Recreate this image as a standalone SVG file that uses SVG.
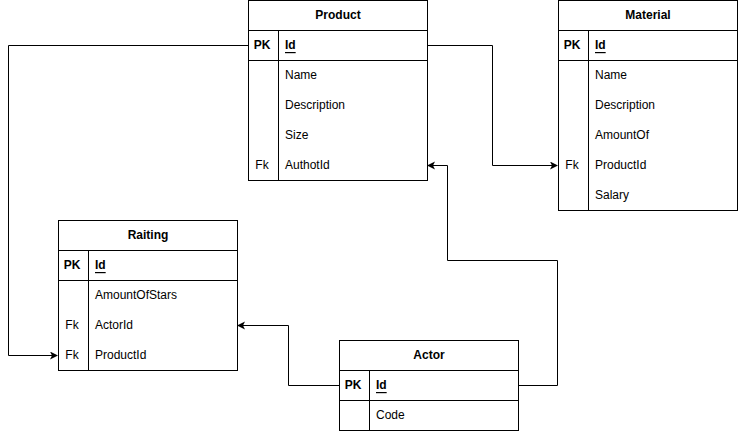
<svg xmlns="http://www.w3.org/2000/svg" width="738" height="431" viewBox="0 0 738 431">
<style>
.box{fill:#fff;stroke:#000;stroke-width:1}
.ln{stroke:#000;stroke-width:1;fill:none}
.t{font-family:"Liberation Sans",Arial,sans-serif;font-size:12px;fill:#000;dominant-baseline:central}
.b{font-weight:bold}
.c{text-anchor:middle}
.u{text-decoration:underline}
.conn{stroke:#000;stroke-width:1;fill:none;marker-end:url(#arr)}
</style>
<defs>
<marker id="arr" markerWidth="10" markerHeight="10" refX="7" refY="4" orient="auto" markerUnits="userSpaceOnUse">
<path d="M0,0 L8,4 L0,8 L2,4 Z" fill="#000"/>
</marker>
</defs>
<g id="connectors">
<path class="conn" d="M248,45.5 H8.5 V355.5 H57"/>
<path class="conn" d="M427,45.5 H492.5 V165.5 H557"/>
<path class="conn" d="M518,385.5 H557.5 V260.5 H447.5 V165.5 H428"/>
<path class="conn" d="M339,385.5 H288.5 V325.5 H238"/>
</g>
<g id="product">
<rect class="box" x="248.5" y="0.5" width="179" height="180"/>
<path class="ln" d="M248.5,30.5 H427.5 M248.5,60.5 H427.5 M278.5,30.5 V180.5"/>
<text class="t b c" x="338" y="15">Product</text>
<text class="t b c" x="262" y="45">PK</text>
<text class="t b u" x="285" y="45">Id</text>
<text class="t" x="285" y="75">Name</text>
<text class="t" x="285" y="105">Description</text>
<text class="t" x="285" y="135">Size</text>
<text class="t c" x="262" y="165">Fk</text>
<text class="t" x="285" y="165">AuthotId</text>
</g>
<g id="material">
<rect class="box" x="558.5" y="0.5" width="179" height="210"/>
<path class="ln" d="M558.5,30.5 H737.5 M558.5,60.5 H737.5 M588.5,30.5 V210.5"/>
<text class="t b c" x="648" y="15">Material</text>
<text class="t b c" x="572" y="45">PK</text>
<text class="t b u" x="595" y="45">Id</text>
<text class="t" x="595" y="75">Name</text>
<text class="t" x="595" y="105">Description</text>
<text class="t" x="595" y="135">AmountOf</text>
<text class="t c" x="572" y="165">Fk</text>
<text class="t" x="595" y="165">ProductId</text>
<text class="t" x="595" y="195">Salary</text>
</g>
<g id="raiting">
<rect class="box" x="58.5" y="220.5" width="179" height="150"/>
<path class="ln" d="M58.5,250.5 H237.5 M58.5,280.5 H237.5 M88.5,250.5 V370.5"/>
<text class="t b c" x="148" y="235">Raiting</text>
<text class="t b c" x="72" y="265">PK</text>
<text class="t b u" x="95" y="265">Id</text>
<text class="t" x="95" y="295">AmountOfStars</text>
<text class="t c" x="72" y="325">Fk</text>
<text class="t" x="95" y="325">ActorId</text>
<text class="t c" x="72" y="355">Fk</text>
<text class="t" x="95" y="355">ProductId</text>
</g>
<g id="actor">
<rect class="box" x="339.5" y="340.5" width="179" height="90"/>
<path class="ln" d="M339.5,370.5 H518.5 M339.5,400.5 H518.5 M369.5,370.5 V430.5"/>
<text class="t b c" x="429" y="355">Actor</text>
<text class="t b c" x="353" y="385">PK</text>
<text class="t b u" x="376" y="385">Id</text>
<text class="t" x="376" y="415">Code</text>
</g>
</svg>
